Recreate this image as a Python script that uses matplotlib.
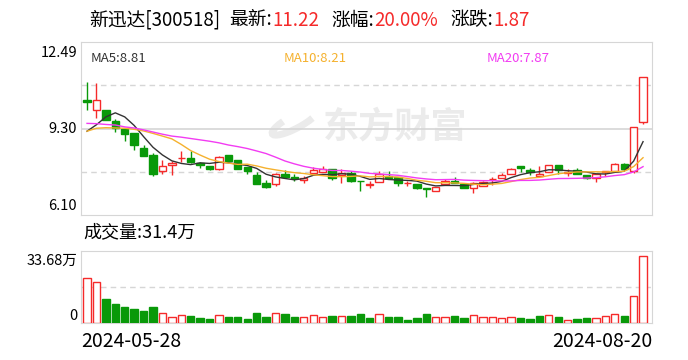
import numpy as np
import pandas as pd
import matplotlib
matplotlib.use('Agg')
import matplotlib.pyplot as plt
from matplotlib.patches import Rectangle, Arc

plt.rcParams['font.family'] = ['Noto Sans CJK SC', 'DejaVu Sans']

# daily candles, 2024-05-28 .. 2024-08-20
opens = [10.37, 9.99, 9.97, 9.56, 9.28, 9.12, 8.57, 8.31, 7.72, 7.94,
         8.20, 8.21, 8.02, 7.91, 7.79, 8.31, 8.13, 7.89, 7.58, 7.29,
         7.24, 7.60, 7.50, 7.41, 7.64, 7.70, 7.79, 7.58, 7.65, 7.37,
         7.21, 7.32, 7.53, 7.51, 7.27, 7.25, 7.10, 7.00, 7.25, 7.36,
         7.26, 7.09, 7.18, 7.42, 7.46, 7.60, 7.91, 7.76, 7.56, 7.70,
         7.95, 7.66, 7.76, 7.58, 7.46, 7.69, 7.73, 7.98, 7.72, 9.55]
closes = [10.27, 10.36, 9.60, 9.32, 9.10, 8.69, 8.29, 7.63, 7.90, 8.01,
          8.21, 8.07, 7.96, 7.79, 8.23, 8.11, 7.81, 7.72, 7.25, 7.15,
          7.62, 7.52, 7.47, 7.48, 7.75, 7.79, 7.46, 7.67, 7.37, 7.35,
          7.24, 7.63, 7.48, 7.27, 7.28, 7.11, 7.08, 7.14, 7.36, 7.27,
          7.09, 7.29, 7.32, 7.45, 7.57, 7.79, 7.83, 7.69, 7.62, 7.94,
          7.76, 7.68, 7.60, 7.47, 7.62, 7.71, 7.98, 7.81, 9.35, 11.22]
highs = [11.03, 10.98, 10.00, 9.66, 9.28, 9.12, 8.68, 8.38, 8.13, 8.11,
         8.46, 8.47, 8.07, 7.91, 8.28, 8.31, 8.13, 7.89, 7.68, 7.40,
         7.64, 7.75, 7.60, 7.53, 7.86, 7.90, 7.80, 7.79, 7.74, 7.37,
         7.37, 7.74, 7.71, 7.51, 7.35, 7.25, 7.10, 7.14, 7.42, 7.51,
         7.26, 7.31, 7.37, 7.51, 7.67, 7.85, 7.91, 7.85, 7.90, 7.94,
         7.95, 7.80, 7.83, 7.58, 7.62, 7.74, 8.01, 8.02, 9.35, 11.22]
lows = [9.98, 9.69, 9.60, 9.17, 8.84, 8.51, 8.29, 7.56, 7.63, 7.59,
        8.07, 8.02, 7.85, 7.76, 7.76, 8.11, 7.81, 7.62, 7.25, 7.10,
        7.16, 7.49, 7.34, 7.27, 7.64, 7.70, 7.41, 7.27, 7.31, 7.00,
        7.10, 7.32, 7.47, 7.19, 7.16, 7.07, 6.78, 7.00, 7.25, 7.27,
        7.09, 6.91, 7.18, 7.20, 7.46, 7.60, 7.70, 7.58, 7.56, 7.70,
        7.62, 7.56, 7.60, 7.42, 7.31, 7.56, 7.73, 7.81, 7.64, 9.48]

# volume in 万 shares, and whether the bar is drawn red
vols = [21.0, 19.1, 11.1, 8.9, 7.3, 6.4, 5.4, 7.3, 4.8, 2.9,
        3.8, 3.0, 2.1, 1.6, 3.8, 2.5, 2.5, 1.6, 4.5, 2.5,
        4.8, 4.0, 2.5, 2.9, 3.8, 2.9, 3.0, 3.3, 3.0, 4.0,
        2.1, 4.0, 2.5, 2.5, 1.1, 2.1, 4.0, 2.5, 2.9, 3.0,
        2.1, 3.5, 2.5, 2.5, 2.1, 2.5, 2.1, 1.6, 3.0, 3.5,
        2.5, 1.1, 1.6, 2.1, 2.1, 3.0, 4.0, 3.0, 12.6, 31.4]
vol_red = [1, 1, 0, 0, 0, 0, 0, 0, 1, 1,
           1, 0, 0, 0, 1, 0, 0, 0, 0, 0,
           1, 0, 0, 1, 1, 1, 0, 1, 0, 0,
           0, 1, 0, 0, 0, 0, 0, 1, 1, 0,
           0, 1, 1, 1, 1, 1, 0, 0, 0, 1,
           0, 1, 0, 0, 1, 1, 1, 0, 1, 1]

# moving averages before a full window is available inside this range
ma5_head = [9.20, 9.44, 9.73, 9.88]
ma10_head = [9.20, 9.31, 9.33, 9.32, 9.31, 9.27, 9.21, 9.12, 9.02]
ma20_head = [9.49, 9.48, 9.45, 9.43, 9.36, 9.32, 9.25, 9.17, 9.09, 9.02,
             8.98, 8.93, 8.88, 8.83, 8.77, 8.69, 8.63, 8.56, 8.47]

price_lo, price_mid, price_hi = 6.10, 9.30, 12.49
vol_max = 33.68
dates = ['2024-05-28', '2024-08-20']
ma_labels = ['MA5:8.81', 'MA10:8.21', 'MA20:7.87']

RED = '#f52a2a'
GREEN = '#099909'
GRID = '#d6d6d6'
MA_COLORS = ['#333333', '#f5b12e', '#f23cf2']


def moving_average(head, n):
    rolled = pd.Series(closes).rolling(n).mean().values[n - 1:]
    return np.concatenate([head, rolled])


def main():
    fig = plt.figure(figsize=(6.88, 3.60), dpi=100)
    W, H = 688.0, 360.0
    ax = fig.add_axes([81 / W, 1 - 215 / H, 571 / W, 172.7 / H])
    axv = fig.add_axes([81 / W, 1 - 322.7 / H, 571 / W, 71.4 / H])

    n = len(closes)
    x = np.arange(n)
    w = 0.78

    # candles
    for i in x:
        o, c, h, l = opens[i], closes[i], highs[i], lows[i]
        up = c >= o
        col = RED if up else GREEN
        ax.vlines(i, l, h, color=col, lw=1, zorder=2)
        ax.add_patch(Rectangle((i - w / 2, min(o, c)), w, max(abs(c - o), 0.004),
                               facecolor='white' if up else col, edgecolor=col,
                               lw=1, zorder=3))

    for head, per, col in zip([ma5_head, ma10_head, ma20_head], [5, 10, 20], MA_COLORS):
        ax.plot(x, moving_average(head, per), color=col, lw=1, zorder=4)

    ax.set_xlim(-0.64, n - 0.05)
    ax.set_ylim(price_lo, price_hi)
    q = (price_hi - price_lo) / 4
    ax.axhline(price_mid, color=GRID, lw=1.2, zorder=1)
    for yv in [price_lo + q, price_hi - q]:
        ax.axhline(yv, color=GRID, lw=1, ls=(0, (4, 3)), zorder=1)

    ax.set_xticks([])
    ax.set_yticks([])
    for s in ax.spines.values():
        s.set_color(GRID)

    ax.text(-0.007, 0.936, '%.2f' % price_hi, transform=ax.transAxes,
            ha='right', va='center', fontsize=10.5)
    ax.text(-0.007, price_mid, '%.2f' % price_mid, transform=ax.get_yaxis_transform(),
            ha='right', va='center', fontsize=10.5)
    ax.text(-0.007, 0.053, '%.2f' % price_lo, transform=ax.transAxes,
            ha='right', va='center', fontsize=10.5)

    # MA legend inside the top of the chart
    for lab, col, xp in zip(ma_labels, MA_COLORS, [91, 284, 487]):
        ax.text((xp - 81) / 571, 0.905, lab, transform=ax.transAxes,
                color=col, fontsize=9.5, va='center')

    # watermark
    ax.text(0.55, 0.51, '东方财富', transform=ax.transAxes, fontsize=26,
            fontweight='bold', color='#ebebeb', ha='center', va='center', zorder=0)
    ax.add_patch(Arc((0.375, 0.54), 0.04, 0.17, angle=-25, theta1=200, theta2=420,
                     transform=ax.transAxes, color='#ebebeb', lw=5, zorder=0))

    # volume
    face = ['white' if r else GREEN for r in vol_red]
    edge = [RED if r else GREEN for r in vol_red]
    axv.bar(x, vols, width=w, color=face, edgecolor=edge, lw=1, zorder=3)
    axv.set_xlim(-0.64, n - 0.05)
    axv.set_ylim(0, vol_max)
    axv.axhline(vol_max / 2, color=GRID, lw=1, ls=(0, (4, 3)), zorder=1)
    axv.set_xticks([])
    axv.set_yticks([])
    for s in axv.spines.values():
        s.set_color(GRID)
    axv.text(-0.007, 0.864, '%.2f万' % vol_max, transform=axv.transAxes,
             ha='right', va='center', fontsize=10.5)
    axv.text(-0.007, 0.094, '0', transform=axv.transAxes,
             ha='right', va='center', fontsize=10.5)
    axv.text(0, -0.26, dates[0], transform=axv.transAxes, ha='left',
             va='center', fontsize=14)
    axv.text(1, -0.26, dates[1], transform=axv.transAxes, ha='right',
             va='center', fontsize=14)

    fig.text(83 / W, 1 - 232 / H, '成交量:%.1f万' % vols[-1], fontsize=13, va='center')

    # header line, pieces chained left to right
    header = [('新迅达[300518]', 'black', 9), ('最新:', 'black', 0),
              ('%.2f' % closes[-1], RED, 13), ('涨幅:', 'black', 0),
              ('20.00%', RED, 12), ('涨跌:', 'black', 0),
              ('%.2f' % (closes[-1] - closes[-2]), RED, 0)]
    renderer = fig.canvas.get_renderer()
    xpos = 89
    for s, col, gap in header:
        t = fig.text(xpos / W, 1 - 20 / H, s, color=col, fontsize=13.5, va='center')
        bb = t.get_window_extent(renderer)
        xpos = bb.x1 + gap

    fig.savefig('out.png', dpi=100)


if __name__ == "__main__":
    main()
